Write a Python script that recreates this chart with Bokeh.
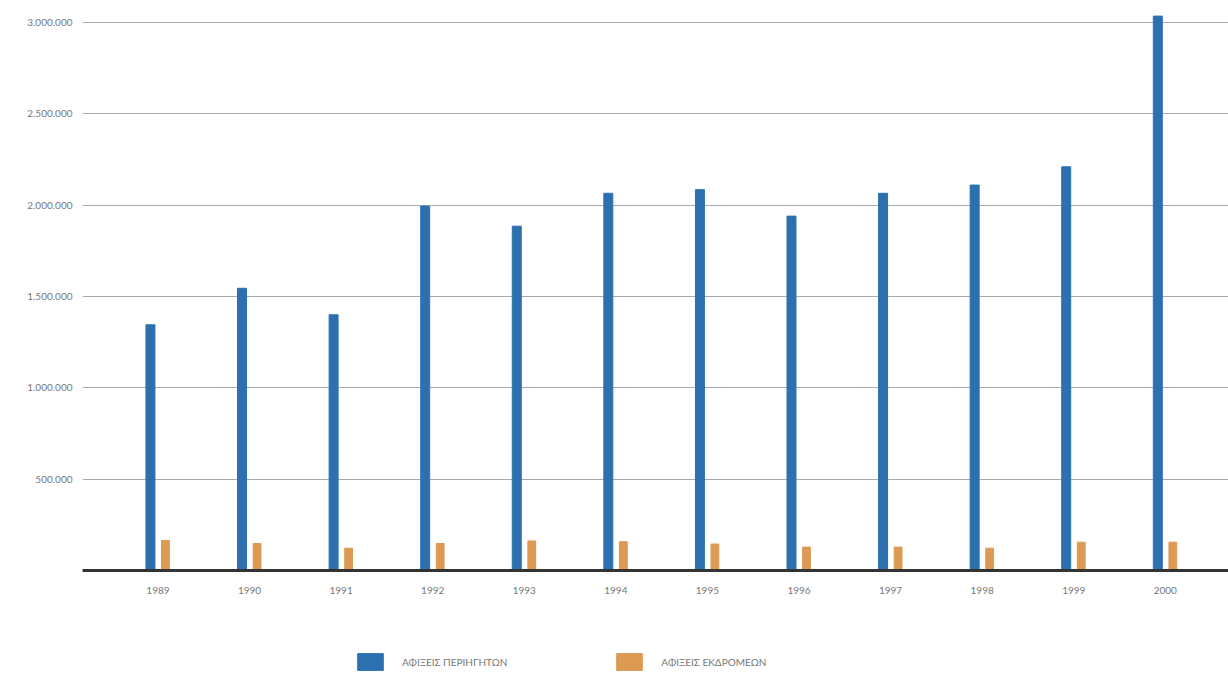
from bokeh.plotting import figure
from bokeh.layouts import column
from bokeh.models import ColumnDataSource, FixedTicker, Legend, LegendItem
from bokeh.embed import file_html
from bokeh.resources import INLINE

years = [1989, 1990, 1991, 1992, 1993, 1994, 1995, 1996, 1997, 1998, 1999, 2000]
tourists = [1345000, 1545000, 1400000, 1995000, 1885000, 2065000, 2085000, 1940000, 2065000, 2110000, 2210000, 3035000]
excursionists = [165000, 148000, 122000, 148000, 162000, 158000, 145000, 128000, 128000, 122000, 155000, 155000]
y_ticks = [500000, 1000000, 1500000, 2000000, 2500000, 3000000]
y_tick_labels = ["500.000", "1.000.000", "1.500.000", "2.000.000", "2.500.000", "3.000.000"]
series_names = ["ΑΦΙΞΕΙΣ ΠΕΡΙΗΓΗΤΩΝ", "ΑΦΙΞΕΙΣ ΕΚΔΡΟΜΕΩΝ"]

BLUE = "#2c70b0"
ORANGE = "#dc9a52"
OFF = 0.082
FONT = "Lato"

src = ColumnDataSource(dict(
    x_blue=[y - OFF for y in years],
    x_orange=[y + OFF for y in years],
    tourists=tourists,
    excursionists=excursionists,
))

p = figure(width=1228, height=623, output_backend="svg", toolbar_location=None,
           x_range=(1988.176, 2000.69), y_range=(0, 3054700),
           min_border_left=82, min_border_right=0, min_border_top=12, min_border_bottom=53)
p.outline_line_color = None
p.background_fill_color = "white"
p.border_fill_color = "white"

p.vbar(x="x_blue", top="tourists", width=0.098, source=src, color=BLUE)
p.vbar(x="x_orange", top="excursionists", width=0.085, source=src, color=ORANGE)

# y axis
p.yaxis.ticker = FixedTicker(ticks=y_ticks)
p.yaxis.major_label_overrides = dict(zip(y_ticks, y_tick_labels))
p.yaxis.axis_line_color = None
p.yaxis.major_tick_line_color = None
p.yaxis.minor_tick_line_color = None
p.yaxis.major_label_text_font = FONT
p.yaxis.major_label_text_font_size = "10px"
p.yaxis.major_label_text_color = "#777777"
p.yaxis.major_label_standoff = 4

# x axis
p.xaxis.ticker = FixedTicker(ticks=years)
p.xaxis.major_label_overrides = {y: str(y) for y in years}
p.xaxis.axis_line_color = "#333333"
p.xaxis.axis_line_width = 3
p.xaxis.major_tick_line_color = None
p.xaxis.minor_tick_line_color = None
p.xaxis.major_label_text_font = FONT
p.xaxis.major_label_text_font_size = "10px"
p.xaxis.major_label_text_color = "#777777"
p.xaxis.major_label_standoff = 10

p.xgrid.grid_line_color = None
p.ygrid.grid_line_color = "#aaaaaa"
p.ygrid.grid_line_width = 1
p.ygrid.ticker = FixedTicker(ticks=y_ticks)

# legend strip below the chart (swatch renderers sit outside the visible range)
lg = figure(width=1228, height=56, output_backend="svg", toolbar_location=None,
            x_range=(0, 1), y_range=(0, 1),
            min_border_left=0, min_border_right=0, min_border_top=0, min_border_bottom=0)
lg.axis.visible = False
lg.grid.visible = False
lg.outline_line_color = None
lr1 = lg.vbar(x=[5], top=[1], width=0.1, color=BLUE)
lr2 = lg.vbar(x=[5], top=[1], width=0.1, color=ORANGE)
legend = Legend(items=[LegendItem(label=series_names[0], renderers=[lr1], index=0),
                       LegendItem(label=series_names[1], renderers=[lr2], index=0)],
                orientation="horizontal", location=(272, 7),
                glyph_width=32, glyph_height=21, label_standoff=16, spacing=106,
                label_text_font=FONT, label_text_font_size="10px",
                label_text_color="#777777", border_line_color=None,
                background_fill_alpha=0, padding=0, margin=0)
lg.add_layout(legend, "center")

layout = column(p, lg, spacing=0)
open("out.html", "w").write(file_html(layout, INLINE))
